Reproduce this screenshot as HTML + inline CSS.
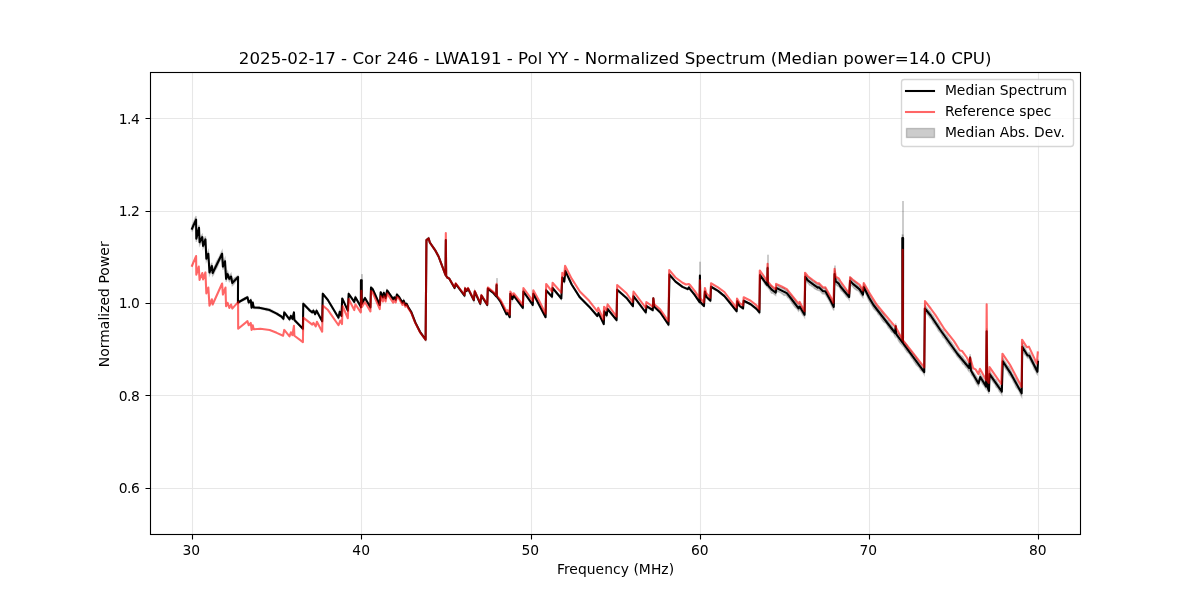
<!DOCTYPE html>
<html lang="en"><head><meta charset="utf-8"><title>Normalized Spectrum</title>
<style>html,body{margin:0;padding:0;background:#fff}body{width:1200px;height:600px;overflow:hidden}</style></head>
<body>
<svg width="1200" height="600" viewBox="0 0 1200 600" style="display:block">
<rect width="1200" height="600" fill="#fff"/>
<defs><clipPath id="ax"><rect x="150" y="72" width="930" height="462"/></clipPath></defs>
<path d="M192.5 72V534 M361.5 72V534 M531.5 72V534 M700.5 72V534 M869.5 72V534 M1038.5 72V534 M150 488.5H1080 M150 395.5H1080 M150 303.5H1080 M150 211.5H1080 M150 118.5H1080" stroke="#b0b0b0" stroke-opacity="0.3" stroke-width="1.11" fill="none"/>
<g clip-path="url(#ax)">
<polygon points="192.00,225.81 192.82,223.99 193.63,221.85 194.45,220.08 195.27,217.77 196.08,216.12 196.32,235.80 197.21,232.52 198.11,229.04 199.00,224.96 199.58,239.17 200.48,237.15 201.37,235.67 202.27,234.58 203.08,243.41 204.25,239.45 205.42,236.31 206.35,255.97 207.34,252.86 208.33,250.79 209.50,269.75 210.67,265.71 211.83,262.84 212.65,270.20 213.51,267.84 214.37,266.46 215.23,265.06 216.09,262.75 216.95,260.87 217.80,259.38 218.66,258.04 219.52,256.27 220.38,254.37 221.24,252.64 222.10,250.89 222.92,263.40 223.97,260.41 225.02,258.26 226.07,275.94 227.58,271.30 228.46,273.74 229.33,276.01 230.21,274.66 231.08,273.48 232.25,280.10 233.08,279.11 233.92,278.51 234.75,277.78 235.58,277.29 236.42,276.81 237.25,276.03 238.08,275.57 237.93,300.97 238.80,300.54 239.67,300.37 240.54,300.20 241.41,299.86 242.28,299.18 243.15,298.57 244.02,298.10 244.89,297.50 245.76,297.03 246.63,296.82 247.50,296.45 248.67,301.55 249.72,300.40 250.77,299.13 251.58,306.51 252.75,301.30 253.68,306.34 254.60,306.40 255.51,306.56 256.43,306.77 257.34,306.74 258.25,306.67 259.17,306.73 259.97,307.08 260.78,307.30 261.59,307.43 262.40,307.62 263.21,307.85 264.01,308.00 264.82,308.10 265.63,308.18 266.44,308.26 267.24,308.51 268.05,308.79 268.86,308.90 269.67,308.96 270.54,309.43 271.42,309.89 272.29,310.26 273.17,310.91 274.04,311.37 274.92,311.74 275.79,312.29 276.67,312.59 277.60,313.11 278.53,313.87 279.47,314.47 280.40,315.08 281.33,315.75 282.38,316.71 283.43,317.86 284.25,311.51 285.12,312.59 286.00,313.70 286.88,314.86 287.75,316.25 288.62,317.51 289.50,318.56 290.90,315.16 292.42,318.06 293.93,311.50 294.40,319.01 295.25,319.79 296.10,320.86 296.95,321.92 297.81,322.66 298.66,323.56 299.51,324.55 300.36,325.31 301.21,326.20 302.06,327.02 302.92,327.72 303.27,302.83 304.13,303.84 305.00,304.56 305.87,305.36 306.73,306.42 307.60,307.54 308.47,308.31 309.33,309.04 310.31,309.99 311.28,310.89 312.25,311.54 313.42,309.69 314.29,311.58 315.17,313.37 316.57,309.72 317.37,311.25 318.17,312.91 318.97,314.54 319.77,316.01 320.57,317.32 321.37,318.88 322.17,320.58 322.75,293.09 323.62,294.14 324.50,295.27 325.38,296.35 326.25,297.33 327.12,298.24 328.00,299.33 328.81,300.81 329.62,302.19 330.42,303.42 331.23,304.62 332.04,305.87 332.85,307.39 333.65,308.97 334.46,310.17 335.27,311.30 336.08,312.74 336.88,314.12 337.69,315.37 338.50,316.75 339.67,310.92 340.54,313.10 341.42,315.29 342.23,297.72 343.03,299.51 343.83,301.11 344.63,302.88 345.43,304.69 346.23,306.43 347.03,308.25 347.83,309.92 348.65,293.05 349.45,294.19 350.25,295.27 351.05,296.49 351.85,297.60 352.65,298.81 353.45,300.11 354.25,301.23 355.42,296.51 356.29,298.11 357.17,299.53 358.04,300.94 358.92,302.69 359.79,304.35 360.67,305.88 360.85,306.61 360.92,279.65 361.72,279.64 361.78,302.93 362.83,301.02 363.88,299.14 364.93,297.14 365.85,298.67 366.76,300.36 367.68,301.91 368.59,303.26 369.50,304.85 370.42,306.56 371.00,286.71 371.88,287.48 372.75,288.36 373.62,290.47 374.50,292.36 375.38,294.13 376.25,296.23 377.12,298.29 378.00,300.35 378.88,302.22 379.75,304.01 380.68,291.26 381.79,293.90 382.90,296.63 383.83,292.07 384.71,294.68 385.58,297.24 387.10,289.69 387.97,290.87 388.83,292.03 389.70,293.39 390.57,294.72 391.43,295.92 392.30,297.00 393.17,298.26 394.33,296.65 395.73,298.94 396.90,293.72 397.95,294.87 399.00,295.94 399.88,297.52 400.75,299.00 401.62,300.37 402.50,301.89 403.67,299.74 404.54,301.92 405.42,304.12 406.58,302.86 407.46,304.80 408.33,306.59 409.31,308.10 410.28,309.63 411.25,311.13 412.07,313.30 412.88,315.32 413.70,317.51 414.52,319.69 415.33,321.73 416.27,323.72 417.20,325.48 418.13,327.22 419.07,329.06 420.00,330.92 420.80,332.17 421.60,333.19 422.40,334.36 423.20,335.70 424.00,336.67 424.80,337.71 425.60,338.91 426.45,239.31 427.56,238.44 428.67,237.56 429.83,241.57 430.71,242.97 431.58,244.37 432.46,245.66 433.33,246.70 434.21,247.93 435.08,249.39 435.96,251.02 436.83,252.44 437.71,254.08 438.58,255.71 439.44,258.03 440.30,260.29 441.16,262.49 442.02,265.02 442.89,267.23 443.75,269.46 444.61,271.81 445.47,274.07 445.82,239.34 446.17,275.38 447.23,276.88 448.28,277.45 449.33,278.06 450.21,279.64 451.08,280.98 451.96,282.52 452.83,284.18 453.71,285.73 454.58,287.36 455.75,283.12 456.62,284.12 457.50,285.35 458.38,286.74 459.25,287.78 460.12,288.94 461.00,290.25 461.88,291.30 462.75,292.35 463.62,293.45 464.50,294.68 465.08,287.78 466.60,290.06 468.00,287.61 468.83,289.27 469.67,290.98 470.50,292.83 471.33,294.59 472.17,296.17 473.00,297.79 473.83,299.37 474.77,290.68 475.68,292.77 476.59,294.77 477.51,296.79 478.42,298.87 479.34,300.99 480.25,303.05 481.42,294.95 482.25,296.08 483.08,297.39 483.92,298.73 484.75,300.02 485.58,301.55 486.42,302.82 487.25,304.15 487.83,287.81 488.67,288.49 489.50,289.19 490.33,289.82 491.17,290.57 492.00,291.05 492.83,291.68 493.67,292.42 494.52,293.40 495.38,294.59 496.23,295.61 496.58,283.99 496.93,295.93 497.87,297.33 498.80,298.62 499.73,299.88 500.67,301.26 501.50,303.06 502.33,304.63 503.17,306.32 504.00,308.24 504.83,309.96 505.67,311.68 506.50,313.44 507.67,312.21 508.72,314.41 509.77,316.39 510.35,292.90 511.34,295.54 512.33,298.12 513.73,294.73 514.56,296.02 515.39,297.16 516.22,298.20 517.04,299.25 517.87,300.41 518.70,301.51 519.52,302.64 520.35,303.87 521.18,304.93 522.01,305.98 522.83,307.10 523.42,290.61 524.27,291.89 525.11,293.18 525.96,294.29 526.81,295.60 527.66,296.86 528.51,297.91 529.36,299.16 530.20,300.44 531.05,301.54 531.90,302.85 532.75,304.03 533.33,292.89 534.17,294.59 535.00,296.15 535.83,297.75 536.67,299.33 537.50,300.95 538.33,302.48 539.17,304.00 539.97,305.70 540.77,307.26 541.57,308.63 542.38,310.07 543.18,311.70 543.98,313.34 544.78,314.90 545.58,316.28 546.17,289.51 547.00,290.45 547.83,291.19 548.67,292.26 549.50,293.30 550.33,294.14 551.17,294.94 552.00,295.77 552.58,286.97 553.46,288.18 554.33,289.43 555.21,290.43 556.08,291.39 556.96,292.40 557.83,293.56 558.71,294.61 559.58,295.46 560.46,296.45 561.33,297.49 562.27,276.49 563.26,278.53 564.25,280.78 565.42,270.29 566.31,272.16 567.20,274.21 568.10,276.09 568.99,277.85 569.88,279.73 570.77,281.79 571.67,283.77 572.48,284.92 573.30,286.09 574.12,287.56 574.93,288.98 575.75,290.21 576.57,291.50 577.38,292.74 578.20,294.02 579.02,295.30 579.83,296.41 580.68,297.19 581.53,298.24 582.38,299.25 583.23,300.02 584.08,300.76 584.92,301.62 585.77,302.56 586.62,303.42 587.47,304.28 588.32,305.00 589.17,305.73 589.98,306.77 590.80,307.71 591.62,308.61 592.43,309.59 593.25,310.56 594.07,311.50 594.88,312.29 595.70,313.15 596.52,314.12 597.33,315.21 598.50,312.37 599.38,314.16 600.25,316.11 601.12,317.95 602.00,319.80 602.88,321.69 603.75,323.36 604.33,310.42 605.50,312.48 606.67,314.67 607.60,308.38 608.42,309.40 609.23,310.43 610.05,311.42 610.87,312.22 611.68,313.03 612.50,314.22 613.32,315.38 614.13,316.21 614.95,317.14 615.77,318.29 616.58,319.32 617.17,289.01 618.02,289.73 618.86,290.36 619.71,291.12 620.56,291.84 621.41,292.68 622.26,293.47 623.11,294.00 623.95,294.86 624.80,295.72 625.65,296.34 626.50,297.12 627.30,298.06 628.10,299.05 628.91,300.19 629.71,301.11 630.51,302.24 631.31,303.27 632.11,304.26 632.92,305.40 633.50,295.40 634.32,296.46 635.13,297.66 635.95,298.79 636.77,299.80 637.58,300.74 638.40,301.69 639.22,302.87 640.03,303.95 640.85,304.98 641.67,306.20 642.48,307.47 643.30,308.50 644.12,309.54 644.93,310.77 645.75,311.70 646.57,305.06 647.45,305.75 648.33,306.41 649.22,306.96 650.10,307.47 650.98,308.11 651.87,308.77 652.75,309.41 653.33,297.59 654.27,305.92 655.13,306.76 656.00,307.71 656.87,308.51 657.73,309.17 658.60,310.03 659.47,310.83 660.33,311.56 661.15,312.84 661.97,314.02 662.78,315.38 663.60,316.78 664.42,317.80 665.23,318.85 666.05,320.28 666.87,321.54 667.68,322.78 668.50,324.15 669.43,273.96 670.30,274.93 671.17,275.86 672.03,276.71 672.90,277.70 673.77,278.89 674.63,279.93 675.50,280.96 676.38,281.67 677.25,282.23 678.12,282.77 679.00,283.47 679.88,284.15 680.75,284.84 681.62,285.43 682.50,286.02 683.38,286.53 684.25,286.89 685.12,287.27 686.00,287.71 686.88,288.12 687.75,288.39 688.92,286.60 690.00,288.23 690.93,289.36 691.87,290.72 692.80,291.82 693.73,292.84 694.67,293.97 695.48,295.32 696.30,296.55 697.12,297.58 697.93,298.90 698.75,300.20 699.57,301.33 699.92,274.78 700.27,301.21 701.20,302.09 702.13,303.08 703.07,304.13 704.00,305.21 704.93,290.69 706.33,295.98 707.15,296.67 707.97,297.33 708.78,298.29 709.60,299.32 710.42,300.16 711.00,286.07 711.88,286.41 712.75,286.97 713.62,287.55 714.50,287.99 715.38,288.42 716.25,289.01 717.12,289.72 718.00,290.15 718.80,290.72 719.60,291.43 720.41,291.99 721.21,292.55 722.01,293.37 722.81,294.06 723.61,294.54 724.42,295.11 725.29,296.37 726.17,297.47 727.04,298.53 727.92,299.63 728.79,300.56 729.67,301.57 730.54,302.65 731.42,303.96 732.29,305.04 733.17,306.09 734.04,307.15 734.92,308.30 735.79,309.51 736.67,310.45 737.25,300.57 738.42,302.91 739.58,305.12 740.46,305.68 741.33,306.22 742.21,306.88 743.08,307.64 743.67,300.09 744.54,300.47 745.42,300.96 746.29,301.32 747.17,301.75 748.04,302.35 748.92,302.58 749.79,302.84 750.67,303.44 751.50,304.21 752.33,304.74 753.17,305.34 754.00,306.14 754.83,306.85 755.67,307.32 756.50,308.01 757.47,308.97 758.44,309.82 759.42,311.15 760.00,273.59 760.83,274.73 761.67,275.96 762.50,276.75 763.33,277.90 764.17,278.74 765.00,279.50 765.83,281.03 767.23,283.02 767.58,265.96 767.93,282.85 768.87,283.78 769.80,284.78 770.73,285.25 771.67,286.04 772.48,287.25 773.30,288.33 774.12,288.64 774.93,289.18 775.75,289.76 776.33,285.02 777.17,285.13 778.00,285.69 778.83,286.48 779.67,286.82 780.50,287.41 781.33,287.61 782.17,287.80 783.10,288.00 784.03,288.09 784.97,289.18 785.90,290.17 786.83,290.13 787.77,291.01 788.70,292.88 789.63,293.98 790.57,294.80 791.50,295.82 792.38,296.67 793.25,297.71 794.12,298.92 795.00,300.09 795.88,301.64 796.75,303.32 797.62,304.69 798.50,305.38 799.67,303.54 800.48,305.19 801.30,306.23 802.12,307.35 802.93,308.82 803.75,310.79 804.57,312.16 805.27,274.32 806.12,275.56 806.98,276.20 807.83,277.59 808.77,277.96 809.70,278.23 810.63,279.55 811.57,279.98 812.50,280.83 813.38,281.93 814.25,281.85 815.12,282.56 816.00,283.39 816.88,284.18 817.75,285.00 818.92,284.12 819.73,285.19 820.55,286.26 821.37,286.72 822.18,287.25 823.00,288.38 824.17,288.54 825.33,287.77 826.19,289.40 827.06,291.15 827.92,292.81 828.78,294.66 829.64,295.92 830.50,297.35 831.32,298.77 832.13,300.19 832.95,301.81 833.77,303.41 834.58,270.45 835.75,278.01 836.72,278.84 837.69,279.44 838.67,280.73 839.54,282.51 840.42,283.51 841.29,284.13 842.17,285.81 843.04,286.91 843.92,287.98 844.79,289.21 845.67,289.78 846.54,290.59 847.42,292.02 848.29,293.62 849.17,294.29 850.10,277.25 850.96,278.01 851.81,279.41 852.67,280.58 853.54,280.98 854.42,281.44 855.29,282.37 856.17,283.10 857.04,283.99 857.92,285.32 858.79,286.07 859.67,286.33 860.48,287.10 861.30,288.65 862.12,290.13 862.93,291.75 863.75,284.34 864.62,285.82 865.50,287.64 866.38,289.61 867.25,291.19 868.12,292.49 869.00,294.23 869.90,295.64 870.80,297.29 871.70,298.67 872.60,300.05 873.50,301.51 874.33,302.73 875.16,303.97 875.99,305.25 876.82,306.89 877.65,307.29 878.48,308.10 879.31,310.00 880.14,310.84 880.97,311.10 881.80,312.04 882.63,313.06 883.46,313.99 884.29,315.55 885.12,317.28 885.95,318.72 886.78,319.76 887.61,320.31 888.44,320.79 889.27,322.45 890.10,323.62 890.93,323.99 891.76,325.18 892.59,326.85 893.42,328.51 894.25,329.03 895.08,329.56 895.67,323.25 896.25,331.34 897.13,332.81 898.01,333.37 898.88,333.78 899.76,334.96 900.64,336.13 901.52,337.77 902.40,338.91 902.30,234.86 903.10,235.02 903.00,340.02 903.82,341.40 904.64,341.92 905.46,343.01 906.27,344.11 907.09,345.06 907.91,346.73 908.72,348.17 909.54,349.55 910.36,350.38 911.18,350.72 911.99,352.16 912.81,353.61 913.63,354.02 914.44,355.22 915.26,356.38 916.08,357.09 916.90,358.62 917.71,359.91 918.53,361.43 919.35,362.66 920.16,363.13 920.98,364.51 921.80,366.29 922.62,367.59 923.43,368.61 924.25,369.53 924.83,305.35 925.67,306.14 926.50,307.39 927.33,308.53 928.17,309.75 929.00,310.52 929.83,311.10 930.67,312.45 931.52,314.01 932.36,314.85 933.21,315.63 934.06,317.25 934.91,319.06 935.76,320.05 936.61,321.56 937.45,322.79 938.30,323.28 939.15,324.87 940.00,326.61 940.83,327.92 941.67,329.05 942.50,329.41 943.33,330.56 944.17,332.43 945.00,333.82 945.83,334.60 946.67,335.25 947.50,336.58 948.33,338.09 949.17,338.92 950.00,340.45 950.83,341.48 951.67,342.31 952.50,344.06 953.33,344.93 954.17,346.16 955.00,347.93 955.83,349.09 956.67,349.76 957.50,351.08 958.33,352.28 959.17,353.16 960.00,354.07 960.83,355.16 961.67,355.94 962.50,356.20 963.33,357.63 964.17,359.16 965.00,359.90 965.83,360.54 966.67,362.05 967.50,363.11 968.33,363.39 969.17,364.28 970.10,354.15 970.92,367.19 971.76,368.51 972.60,370.54 973.44,372.21 974.29,373.25 975.13,374.42 975.97,375.65 976.81,376.92 977.66,378.91 978.50,380.63 979.38,376.89 980.25,373.62 981.08,375.48 981.92,376.36 982.75,377.48 983.58,379.40 984.42,380.68 985.25,382.02 986.08,383.58 986.67,328.29 987.25,382.74 988.12,385.31 989.00,388.25 989.58,371.27 990.40,372.20 991.22,373.41 992.03,374.73 992.85,375.58 993.67,376.78 994.48,378.64 995.30,379.33 996.12,379.83 996.93,381.43 997.75,383.14 998.57,383.98 999.38,384.44 1000.20,385.91 1001.02,387.44 1001.83,388.60 1002.77,358.07 1003.57,359.11 1004.37,360.69 1005.18,361.74 1005.98,362.82 1006.79,364.49 1007.59,365.83 1008.39,366.34 1009.20,367.20 1010.00,368.86 1010.83,370.49 1011.67,372.34 1012.50,374.08 1013.33,374.86 1014.17,376.57 1015.00,377.99 1015.83,378.86 1016.67,380.64 1017.50,382.59 1018.33,384.66 1019.17,386.23 1020.00,387.11 1020.83,388.49 1021.67,389.93 1022.25,343.46 1023.12,344.90 1024.00,345.74 1024.88,347.30 1025.75,349.38 1026.62,351.32 1027.50,352.91 1028.38,353.07 1029.25,352.43 1030.07,353.64 1030.88,355.25 1031.70,357.08 1032.52,359.11 1033.33,360.16 1034.15,361.17 1034.97,363.56 1035.78,365.40 1036.60,366.60 1037.42,368.97 1038.00,359.06 1038.00,364.61 1037.42,374.53 1036.60,373.64 1035.78,371.57 1034.97,370.14 1034.15,369.27 1033.33,367.01 1032.52,364.79 1031.70,363.55 1030.88,362.12 1030.07,360.46 1029.25,358.41 1028.38,357.76 1027.50,357.92 1026.62,356.60 1025.75,355.62 1024.88,354.79 1024.00,353.43 1023.12,351.35 1022.25,349.87 1021.67,396.73 1020.83,395.17 1020.00,393.55 1019.17,391.43 1018.33,390.01 1017.50,389.07 1016.67,388.03 1015.83,386.81 1015.00,384.68 1014.17,383.09 1013.33,381.81 1012.50,379.59 1011.67,378.32 1010.83,377.18 1010.00,375.81 1009.20,375.00 1008.39,373.40 1007.59,371.45 1006.79,370.33 1005.98,369.53 1005.18,368.15 1004.37,366.74 1003.57,365.85 1002.77,364.43 1001.83,394.57 1001.02,393.39 1000.20,392.59 999.38,391.73 998.57,389.85 997.75,388.36 996.93,387.73 996.12,387.00 995.30,385.17 994.48,383.53 993.67,383.06 992.85,381.92 992.03,380.44 991.22,379.43 990.40,378.30 989.58,376.90 989.00,393.75 988.12,392.02 987.25,389.93 986.67,334.48 986.08,389.09 985.25,387.98 984.42,386.65 983.58,385.26 982.75,384.52 981.92,382.98 981.08,381.19 980.25,380.38 979.38,383.53 978.50,386.20 977.66,385.08 976.81,384.21 975.97,382.63 975.13,381.00 974.29,379.32 973.44,377.51 972.60,376.33 971.76,375.51 970.92,373.98 970.10,360.88 969.17,371.72 968.33,370.61 967.50,368.89 966.67,367.95 965.83,367.46 965.00,366.10 964.17,364.84 963.33,364.37 962.50,363.80 961.67,362.06 960.83,360.84 960.00,359.93 959.17,358.84 958.33,357.72 957.50,356.92 956.67,355.91 955.83,354.24 955.00,353.07 954.17,352.50 953.33,351.41 952.50,349.94 951.67,349.36 950.83,347.85 950.00,346.55 949.17,345.75 948.33,344.25 947.50,343.42 946.67,342.42 945.83,340.74 945.00,339.18 944.17,338.23 943.33,337.78 942.50,336.59 941.67,334.62 940.83,333.42 940.00,332.39 939.15,331.58 938.30,330.63 937.45,328.57 936.61,327.26 935.76,326.22 934.91,324.67 934.06,323.93 933.21,323.00 932.36,321.24 931.52,319.53 930.67,318.55 929.83,317.90 929.00,316.48 928.17,315.25 927.33,314.47 926.50,313.61 925.67,312.86 924.83,311.65 924.25,374.63 923.43,373.32 922.62,372.10 921.80,371.17 920.98,370.72 920.16,369.87 919.35,368.10 918.53,367.09 917.71,366.38 916.90,365.44 916.08,364.73 915.26,363.21 914.44,362.13 913.63,361.10 912.81,359.27 911.99,358.49 911.18,357.69 910.36,355.80 909.54,354.39 908.72,353.54 907.91,352.74 907.09,352.18 906.27,350.90 905.46,349.76 904.64,348.61 903.82,346.91 903.00,346.05 903.10,240.98 902.30,241.14 902.40,345.67 901.52,344.48 900.64,343.80 899.76,342.66 898.88,341.51 898.01,339.61 897.13,337.84 896.25,337.00 895.67,329.45 895.08,336.44 894.25,334.82 893.42,333.18 892.59,332.69 891.76,332.20 890.93,331.24 890.10,329.46 889.27,328.47 888.44,327.98 887.61,326.31 886.78,324.70 885.95,323.59 885.12,322.87 884.29,322.45 883.46,321.86 882.63,320.63 881.80,319.50 880.97,318.28 880.14,316.39 879.31,315.08 878.48,314.82 877.65,313.48 876.82,311.72 875.99,311.21 875.16,310.33 874.33,309.42 873.50,308.49 872.60,306.98 871.70,305.40 870.80,303.81 869.90,302.49 869.00,300.94 868.12,299.18 867.25,296.98 866.38,295.05 865.50,293.53 864.62,291.85 863.75,289.83 862.93,297.58 862.12,296.58 861.30,295.44 860.48,294.36 859.67,292.50 858.79,291.31 857.92,290.60 857.04,290.47 856.17,289.90 855.29,289.17 854.42,288.65 853.54,287.65 852.67,286.59 851.81,285.81 850.96,285.26 850.10,284.09 849.17,299.71 848.29,298.28 847.42,297.78 846.54,297.11 845.67,295.82 844.79,294.29 843.92,293.42 843.04,292.39 842.17,291.39 841.29,290.97 840.42,289.49 839.54,287.57 838.67,286.43 837.69,286.17 836.72,285.22 835.75,284.49 834.58,277.81 833.77,310.43 832.95,308.81 832.13,307.22 831.32,305.44 830.50,303.65 829.64,301.97 828.78,300.13 827.92,298.87 827.06,297.43 826.19,296.07 825.33,294.60 824.17,293.83 823.00,293.99 822.18,293.58 821.37,292.57 820.55,291.49 819.73,291.02 818.92,290.54 817.75,290.37 816.88,289.91 816.00,289.41 815.12,288.95 814.25,288.38 813.38,287.02 812.50,286.84 811.57,286.29 810.63,285.31 809.70,285.24 808.77,284.10 807.83,283.08 806.98,282.13 806.12,280.44 805.27,279.34 804.57,317.34 803.75,315.99 802.93,315.24 802.12,313.98 801.30,312.38 800.48,310.70 799.67,309.62 798.50,311.29 797.62,309.64 796.75,308.68 795.88,308.03 795.00,307.24 794.12,306.08 793.25,304.96 792.38,303.66 791.50,302.18 790.57,300.87 789.63,299.36 788.70,298.12 787.77,297.66 786.83,296.20 785.90,295.23 784.97,295.29 784.03,295.44 783.10,294.60 782.17,293.87 781.33,293.23 780.50,292.59 779.67,292.35 778.83,291.86 778.00,291.81 777.17,291.53 776.33,290.81 775.75,295.41 774.93,294.82 774.12,294.19 773.30,293.34 772.48,293.25 771.67,293.30 770.73,291.87 769.80,290.12 768.87,288.90 767.93,287.61 767.58,269.97 767.23,286.98 765.83,285.47 765.00,284.67 764.17,283.09 763.33,281.60 762.50,280.42 761.67,278.87 760.83,277.77 760.00,276.57 759.42,313.68 758.44,312.68 757.47,311.19 756.50,309.82 755.67,309.18 754.83,308.31 754.00,307.69 753.17,307.16 752.33,306.42 751.50,305.62 750.67,305.06 749.79,304.79 748.92,304.17 748.04,303.53 747.17,303.25 746.29,302.81 745.42,302.29 744.54,301.90 743.67,301.41 743.08,309.03 742.21,308.62 741.33,308.11 740.46,307.49 739.58,306.88 738.42,304.42 737.25,302.09 736.67,312.05 735.79,310.80 734.92,309.83 734.04,308.79 733.17,307.66 732.29,306.52 731.42,305.42 730.54,304.53 729.67,303.43 728.79,302.30 727.92,301.10 727.04,300.06 726.17,298.98 725.29,297.93 724.42,297.05 723.61,296.31 722.81,295.48 722.01,294.86 721.21,294.37 720.41,293.62 719.60,292.86 718.80,292.26 718.00,291.52 717.12,290.93 716.25,290.61 715.38,290.19 714.50,289.59 713.62,289.01 712.75,288.58 711.88,288.12 711.00,287.43 710.42,301.34 709.60,300.54 708.78,299.94 707.97,299.27 707.15,298.29 706.33,297.35 704.93,292.15 704.00,306.79 703.07,305.88 702.13,304.95 701.20,303.96 700.27,302.86 699.92,276.32 699.57,302.97 698.75,301.69 697.93,300.58 697.12,299.49 696.30,298.11 695.48,296.93 694.67,295.86 693.73,294.66 692.80,293.35 691.87,292.11 690.93,291.14 690.00,289.94 688.92,288.23 687.75,289.94 686.88,289.44 686.00,289.07 685.12,288.73 684.25,288.33 683.38,287.92 682.50,287.65 681.62,286.92 680.75,286.20 679.88,285.58 679.00,284.95 678.12,284.34 677.25,283.57 676.38,282.81 675.50,282.21 674.63,281.24 673.77,280.28 672.90,279.47 672.03,278.46 671.17,277.31 670.30,276.24 669.43,275.20 668.50,325.35 667.68,324.27 666.87,323.06 666.05,321.87 665.23,320.85 664.42,319.45 663.60,318.02 662.78,316.97 661.97,315.88 661.15,314.61 660.33,313.44 659.47,312.50 658.60,311.64 657.73,310.83 656.87,309.82 656.00,308.96 655.13,308.24 654.27,307.41 653.33,298.94 652.75,310.92 651.87,310.40 650.98,309.89 650.10,309.36 649.22,308.70 648.33,308.09 647.45,307.59 646.57,307.11 645.75,313.30 644.93,312.05 644.12,311.11 643.30,309.97 642.48,308.82 641.67,307.91 640.85,306.96 640.03,305.80 639.22,304.71 638.40,303.71 637.58,302.49 636.77,301.24 635.95,300.08 635.13,299.03 634.32,298.05 633.50,296.93 632.92,306.77 632.11,305.86 631.31,304.81 630.51,303.80 629.71,302.89 628.91,301.77 628.10,300.87 627.30,299.81 626.50,298.71 625.65,298.00 624.80,297.15 623.95,296.52 623.11,295.89 622.26,294.94 621.41,294.25 620.56,293.60 619.71,292.84 618.86,292.11 618.02,291.26 617.17,290.49 616.58,320.84 615.77,319.86 614.95,319.00 614.13,317.91 613.32,316.72 612.50,315.87 611.68,315.04 610.87,313.85 610.05,312.63 609.23,311.60 608.42,310.61 607.60,309.62 606.67,316.16 605.50,314.27 604.33,312.25 603.75,324.97 602.88,322.95 602.00,321.14 601.12,319.30 600.25,317.45 599.38,315.70 598.50,313.79 597.33,316.79 596.52,316.01 595.70,315.12 594.88,314.11 594.07,313.03 593.25,312.11 592.43,311.21 591.62,310.32 590.80,309.36 589.98,308.43 589.17,307.60 588.32,306.63 587.47,305.66 586.62,304.82 585.77,303.99 584.92,303.23 584.08,302.39 583.23,301.44 582.38,300.51 581.53,299.82 580.68,299.17 579.83,298.26 579.02,296.80 578.20,295.52 577.38,294.23 576.57,292.90 575.75,291.63 574.93,290.29 574.12,289.14 573.30,288.04 572.48,286.65 571.67,285.23 570.77,283.37 569.88,281.60 568.99,279.65 568.10,277.58 567.20,275.62 566.31,273.84 565.42,271.87 564.25,282.39 563.26,280.55 562.27,278.51 561.33,299.51 560.46,298.45 559.58,297.34 558.71,296.09 557.83,295.04 556.96,294.10 556.08,293.01 555.21,291.87 554.33,290.77 553.46,289.92 552.58,289.03 552.00,297.73 551.17,296.72 550.33,295.70 549.50,294.70 548.67,293.90 547.83,293.15 547.00,292.05 546.17,291.16 545.58,318.05 544.78,316.37 543.98,314.86 543.18,313.44 542.38,312.01 541.57,310.39 540.77,308.70 539.97,307.20 539.17,305.83 538.33,304.18 537.50,302.55 536.67,301.00 535.83,299.42 535.00,297.85 534.17,296.25 533.33,294.78 532.75,305.80 531.90,304.55 531.05,303.41 530.20,302.07 529.36,300.91 528.51,299.72 527.66,298.34 526.81,297.16 525.96,296.03 525.11,294.70 524.27,293.55 523.42,292.39 522.83,308.57 522.01,307.46 521.18,306.28 520.35,305.12 519.52,304.12 518.70,303.02 517.87,301.89 517.04,300.82 516.22,299.65 515.39,298.46 514.56,297.38 513.73,296.44 512.33,300.04 511.34,297.38 510.35,294.76 509.77,317.94 508.72,315.84 507.67,313.96 506.50,315.06 505.67,313.32 504.83,311.54 504.00,309.76 503.17,308.18 502.33,306.37 501.50,304.44 500.67,302.74 499.73,301.49 498.80,300.13 497.87,298.79 496.93,297.57 496.58,285.95 496.23,297.19 495.38,296.11 494.52,295.20 493.67,294.08 492.83,293.49 492.00,292.79 491.17,291.93 490.33,291.34 489.50,290.64 488.67,290.01 487.83,289.35 487.25,305.68 486.42,304.34 485.58,302.95 484.75,301.82 483.92,300.43 483.08,299.11 482.25,297.75 481.42,296.22 480.25,304.45 479.34,302.43 478.42,300.46 477.51,298.46 476.59,296.39 475.68,294.32 474.77,292.32 473.83,301.13 473.00,299.38 472.17,297.66 471.33,295.91 470.50,294.34 469.67,292.86 468.83,291.23 468.00,289.55 466.60,291.77 465.08,289.39 464.50,296.49 463.62,295.39 462.75,294.15 461.88,292.87 461.00,291.58 460.12,290.56 459.25,289.38 458.38,288.09 457.50,287.15 456.62,286.05 455.75,284.71 454.58,288.64 453.71,287.15 452.83,285.59 451.96,284.14 451.08,282.58 450.21,280.81 449.33,279.28 448.28,278.72 447.23,278.12 446.17,276.59 445.82,240.76 445.47,275.79 444.61,273.45 443.75,271.19 442.89,268.81 442.02,266.41 441.16,264.33 440.30,261.93 439.44,259.58 438.58,257.29 437.71,255.71 436.83,254.14 435.96,252.36 435.08,250.78 434.21,249.71 433.33,248.41 432.46,246.92 431.58,245.68 430.71,244.56 429.83,243.43 428.67,239.27 427.56,240.14 426.45,241.02 425.60,340.39 424.80,339.36 424.00,338.17 423.20,336.90 422.40,336.01 421.60,334.94 420.80,333.73 420.00,332.75 419.07,330.88 418.13,328.98 417.20,326.98 416.27,325.01 415.33,323.27 414.52,321.11 413.70,319.09 412.88,317.08 412.07,314.90 411.25,312.87 410.28,311.26 409.31,309.68 408.33,308.07 407.46,306.37 406.58,304.81 405.42,305.88 404.54,303.65 403.67,301.39 402.50,303.44 401.62,302.04 400.75,300.50 399.88,299.06 399.00,297.73 397.95,296.46 396.90,295.28 395.73,300.56 394.33,298.19 393.17,300.07 392.30,298.84 391.43,297.42 390.57,296.11 389.70,294.94 388.83,293.80 387.97,292.46 387.10,291.14 385.58,298.76 384.71,296.07 383.83,293.43 382.90,298.20 381.79,295.69 380.68,293.08 379.75,305.99 378.88,303.84 378.00,301.77 377.12,299.90 376.25,298.02 375.38,296.18 374.50,294.02 373.62,291.97 372.75,290.14 371.88,289.27 371.00,288.29 370.42,308.11 369.50,306.71 368.59,305.19 367.68,303.42 366.76,301.87 365.85,300.44 364.93,298.86 363.88,300.75 362.83,302.76 361.78,304.74 361.72,281.13 360.92,281.12 360.85,308.06 360.67,307.29 359.79,305.70 358.92,304.26 358.04,302.90 357.17,301.19 356.29,299.51 355.42,297.99 354.25,302.61 353.45,301.39 352.65,300.36 351.85,299.23 351.05,298.01 350.25,296.90 349.45,295.65 348.65,294.45 347.83,311.41 347.03,309.58 346.23,307.91 345.43,306.15 344.63,304.45 343.83,302.72 343.03,300.82 342.23,299.11 341.42,316.55 340.54,314.65 339.67,312.75 338.50,318.58 337.69,317.27 336.88,315.83 336.08,314.52 335.27,313.26 334.46,311.70 333.65,310.21 332.85,309.10 332.04,307.92 331.23,306.48 330.42,304.99 329.62,303.53 328.81,302.21 328.00,301.00 327.12,299.96 326.25,298.73 325.38,297.57 324.50,296.51 323.62,295.49 322.75,294.41 322.17,321.75 321.37,320.45 320.57,319.01 319.77,317.32 318.97,315.79 318.17,314.42 317.37,313.08 316.57,311.62 315.17,314.96 314.29,313.26 313.42,311.65 312.25,313.30 311.28,312.39 310.31,311.73 309.33,311.13 308.47,310.03 307.60,308.96 306.73,308.25 305.87,307.47 305.00,306.44 304.13,305.33 303.27,304.50 302.92,329.78 302.06,328.73 301.21,327.80 300.36,326.94 299.51,325.95 298.66,325.19 297.81,324.34 296.95,323.33 296.10,322.64 295.25,321.96 294.40,320.99 293.93,313.34 292.42,319.61 290.90,316.68 289.50,320.28 288.62,318.99 287.75,317.92 286.88,316.97 286.00,315.80 285.12,314.57 284.25,313.33 283.43,319.80 282.38,318.62 281.33,317.25 280.40,316.75 279.47,316.19 278.53,315.63 277.60,315.23 276.67,314.58 275.79,314.00 274.92,313.67 274.04,313.17 273.17,312.76 272.29,312.53 271.42,312.02 270.54,311.61 269.67,311.20 268.86,310.91 268.05,310.66 267.24,310.58 266.44,310.47 265.63,310.19 264.82,309.91 264.01,309.66 263.21,309.44 262.40,309.31 261.59,309.15 260.78,308.91 259.97,308.78 259.17,308.77 258.25,308.71 257.34,308.53 256.43,308.38 255.51,308.48 254.60,308.52 253.68,308.46 252.75,303.70 251.58,308.99 250.77,301.20 249.72,302.26 248.67,303.45 247.50,298.05 246.63,298.64 245.76,299.38 244.89,299.87 244.02,300.22 243.15,300.70 242.28,301.05 241.41,301.32 240.54,301.93 239.67,302.72 238.80,303.50 237.93,304.03 238.08,278.59 237.25,279.81 236.42,280.69 235.58,281.87 234.75,283.05 233.92,283.99 233.08,285.06 232.25,285.73 231.08,279.52 230.21,280.68 229.33,281.66 228.46,279.26 227.58,277.03 226.07,281.73 225.02,264.41 223.97,267.50 222.92,269.77 222.10,256.61 221.24,258.36 220.38,260.13 219.52,261.73 218.66,263.46 217.80,265.62 216.95,267.63 216.09,269.25 215.23,270.44 214.37,272.54 213.51,274.66 212.65,275.80 211.83,269.16 210.67,272.70 209.50,275.08 208.33,256.71 207.34,259.55 206.35,261.37 205.42,242.53 204.25,245.80 203.08,248.25 202.27,239.59 201.37,242.00 200.48,244.02 199.58,245.49 199.00,230.54 198.11,233.85 197.21,237.75 196.32,241.87 196.08,223.05 195.27,225.03 194.45,226.37 193.63,228.24 192.82,229.73 192.00,231.55" fill="#000" fill-opacity="0.2" stroke="#000" stroke-opacity="0.2" stroke-width="1.39" stroke-linejoin="miter"/>
<rect x="361" y="274.10" width="2" height="7.28" fill="#000" fill-opacity="0.2"/>
<rect x="496" y="278.10" width="2" height="7.87" fill="#000" fill-opacity="0.2"/>
<rect x="699" y="261.70" width="2" height="14.85" fill="#000" fill-opacity="0.2"/>
<rect x="767" y="254.70" width="2" height="14.27" fill="#000" fill-opacity="0.2"/>
<rect x="834" y="265.50" width="2" height="9.63" fill="#000" fill-opacity="0.2"/>
<rect x="902" y="201.00" width="2" height="38.00" fill="#000" fill-opacity="0.2"/>
<polyline points="192.00,228.68 196.08,219.58 196.32,238.83 199.00,227.75 199.58,242.33 202.27,237.08 203.08,245.83 205.42,239.42 206.35,258.67 208.33,253.75 209.50,272.42 211.83,266.00 212.65,273.00 222.10,253.75 222.92,266.58 225.02,261.33 226.07,278.83 227.58,274.17 229.33,278.83 231.08,276.50 232.25,282.92 238.08,277.08 237.93,302.50 247.50,297.25 248.67,302.50 250.77,300.17 251.58,307.75 252.75,302.50 253.68,307.40 259.17,307.75 269.67,310.08 276.67,313.58 281.33,316.50 283.43,318.83 284.25,312.42 289.50,319.42 290.90,315.92 292.42,318.83 293.93,312.42 294.40,320.00 302.92,328.75 303.27,303.67 309.33,310.08 312.25,312.42 313.42,310.67 315.17,314.17 316.57,310.67 322.17,321.17 322.75,293.75 328.00,300.17 338.50,317.67 339.67,311.83 341.42,315.92 342.23,298.42 347.83,310.67 348.65,293.75 354.25,301.92 355.42,297.25 360.67,306.58 360.85,307.33 360.92,280.38 361.72,280.38 361.78,303.83 364.93,298.00 370.42,307.33 371.00,287.50 372.75,289.25 379.75,305.00 380.68,292.17 382.90,297.42 383.83,292.75 385.58,298.00 387.10,290.42 393.17,299.17 394.33,297.42 395.73,299.75 396.90,294.50 399.00,296.83 402.50,302.67 403.67,300.57 405.42,305.00 406.58,303.83 408.33,307.33 411.25,312.00 415.33,322.50 420.00,331.83 425.60,339.65 426.45,240.17 428.67,238.42 429.83,242.50 435.08,250.08 438.58,256.50 445.47,274.93 445.82,240.05 446.17,275.98 447.23,277.50 449.33,278.67 454.58,288.00 455.75,283.92 464.50,295.58 465.08,288.58 466.60,290.92 468.00,288.58 473.83,300.25 474.77,291.50 480.25,303.75 481.42,295.58 487.25,304.92 487.83,288.58 493.67,293.25 496.23,296.40 496.58,284.97 496.93,296.75 500.67,302.00 506.50,314.25 507.67,313.08 509.77,317.17 510.35,293.83 512.33,299.08 513.73,295.58 522.83,307.83 523.42,291.50 532.75,304.92 533.33,293.83 539.17,304.92 545.58,317.17 546.17,290.33 552.00,296.75 552.58,288.00 561.33,298.50 562.27,277.50 564.25,281.58 565.42,271.08 571.67,284.50 579.83,297.33 589.17,306.67 597.33,316.00 598.50,313.08 603.75,324.17 604.33,311.33 606.67,315.42 607.60,309.00 616.58,320.08 617.17,289.75 626.50,297.92 632.92,306.08 633.50,296.17 645.75,312.50 646.57,306.08 652.75,310.17 653.33,298.27 654.27,306.67 660.33,312.50 668.50,324.75 669.43,274.58 675.50,281.58 682.50,286.83 687.75,289.17 688.92,287.42 690.00,289.08 694.67,294.92 699.57,302.15 699.92,275.55 700.27,302.03 704.00,306.00 704.93,291.42 706.33,296.67 710.42,300.75 711.00,286.75 718.00,290.83 724.42,296.08 729.67,302.50 736.67,311.25 737.25,301.33 739.58,306.00 743.08,308.33 743.67,300.75 750.67,304.25 756.50,308.92 759.42,312.42 760.00,275.08 765.83,283.25 767.23,285.00 767.58,267.97 767.93,285.23 771.67,289.67 775.75,292.58 776.33,287.92 782.17,290.83 786.83,293.17 791.50,299.00 798.50,308.33 799.67,306.58 804.57,314.75 805.27,276.83 807.83,280.33 812.50,283.83 817.75,287.68 818.92,287.33 823.00,291.18 825.33,291.18 830.50,300.50 833.77,306.92 834.58,274.13 835.75,281.25 838.67,283.58 840.42,286.50 849.17,297.00 850.10,280.67 852.67,283.58 859.67,289.42 862.93,294.67 863.75,287.08 869.00,297.58 873.50,305.00 895.08,333.00 895.67,326.35 896.25,334.17 902.40,342.29 902.30,238.00 903.10,238.00 903.00,343.03 924.25,372.08 924.83,308.50 930.67,315.50 940.00,329.50 957.50,354.00 969.17,368.00 970.10,357.52 970.92,370.58 978.50,383.42 980.25,377.00 986.08,386.33 986.67,331.38 987.25,386.33 989.00,391.00 989.58,374.08 1001.83,391.58 1002.77,361.25 1010.00,372.33 1021.67,393.33 1022.25,346.67 1027.50,355.42 1029.25,355.42 1037.42,371.75 1038.00,361.83" fill="none" stroke="#000" stroke-width="2.083" stroke-linejoin="round" stroke-linecap="square"/>
<polyline points="192.00,265.77 196.08,256.08 196.32,274.75 198.77,266.58 199.58,280.00 202.27,273.00 203.08,279.42 205.42,272.42 206.35,293.42 208.33,287.58 209.50,305.67 211.83,299.25 212.65,304.50 222.10,283.50 222.92,294.58 225.48,287.58 226.07,306.25 227.58,302.75 229.33,308.00 231.08,304.50 232.25,308.58 238.08,302.17 238.17,328.75 247.50,321.17 248.67,325.25 250.77,322.92 251.58,329.92 252.75,325.25 253.68,329.33 260.33,328.75 269.67,329.92 276.67,332.83 283.08,335.75 284.25,329.92 289.50,336.33 290.90,332.25 292.42,335.17 293.93,325.83 294.40,335.75 302.92,342.17 303.27,317.67 309.33,322.33 312.25,324.67 313.42,322.92 315.75,326.42 316.92,321.75 322.17,331.67 322.75,305.42 328.00,310.08 338.50,325.25 340.25,320.58 342.00,324.08 342.58,306.00 347.83,318.25 348.65,299.00 354.25,310.08 355.42,304.25 360.67,312.42 360.85,312.00 361.32,290.88 361.78,307.33 364.93,302.08 370.42,311.42 371.00,291.00 372.75,292.75 379.75,309.08 380.68,296.25 382.90,301.50 383.83,296.25 385.58,301.50 387.10,293.33 393.17,302.67 394.33,300.33 395.73,302.43 396.90,296.83 399.00,298.58 402.50,305.00 403.67,302.67 405.42,306.75 406.58,305.00 408.33,308.50 411.25,312.93 415.33,323.08 420.00,332.18 425.60,339.77 426.45,240.17 428.67,238.42 429.83,242.50 435.08,250.08 438.58,256.50 445.47,274.93 445.82,233.05 446.17,275.75 447.23,277.50 449.33,278.67 454.58,287.42 455.75,283.33 464.50,295.00 465.08,288.00 466.60,290.33 468.00,288.00 473.83,299.67 474.77,290.92 480.25,303.17 481.42,295.00 487.25,304.33 487.83,287.42 493.67,292.08 496.23,295.23 496.58,283.80 496.93,295.58 500.67,300.25 506.50,311.33 507.67,310.17 509.77,314.83 510.35,291.50 512.33,295.00 513.73,293.25 522.83,304.92 523.42,288.00 532.75,300.83 533.33,290.33 539.17,300.83 545.58,313.67 546.17,283.92 552.00,291.50 552.58,282.75 561.33,292.67 562.27,272.83 564.25,275.17 565.07,265.83 571.67,278.67 579.83,291.50 589.17,300.83 597.33,311.33 598.27,307.83 603.40,319.50 604.10,306.67 606.43,310.17 607.60,304.33 616.58,316.58 617.17,285.08 626.50,293.25 632.57,302.00 633.50,291.50 645.75,307.83 646.33,302.00 652.75,306.67 653.33,298.27 654.27,304.33 660.33,309.58 668.50,321.25 669.20,269.92 675.50,277.50 682.50,282.75 686.00,284.50 688.92,283.92 690.00,285.00 694.67,290.83 699.57,298.07 699.92,280.22 700.27,298.07 703.77,302.50 704.93,287.92 706.33,293.17 710.42,297.83 711.00,283.25 718.00,287.33 724.42,292.00 729.67,299.00 736.43,307.75 737.02,298.42 739.58,303.08 743.08,305.42 743.67,297.25 750.67,300.75 756.50,305.42 759.42,309.50 759.77,270.42 765.83,279.17 767.23,280.92 767.58,263.88 767.93,281.73 771.67,286.17 775.75,289.08 776.10,283.83 782.17,286.75 786.83,289.08 791.50,294.92 798.50,303.67 799.67,301.92 804.57,311.25 805.03,272.75 807.83,276.25 812.50,279.75 817.75,283.48 818.92,283.13 823.00,287.57 825.33,287.33 830.50,296.42 833.42,302.83 834.58,268.88 835.75,276.58 838.67,278.33 840.42,281.25 849.17,293.50 850.10,277.17 852.67,279.50 859.67,284.75 862.93,290.58 863.75,283.00 869.00,292.33 877.00,305.00 895.08,326.58 895.67,325.77 896.25,327.98 902.40,339.77 902.70,249.70 903.00,340.35 912.00,351.67 924.25,367.42 925.00,301.08 930.67,308.50 935.33,314.92 944.67,329.50 954.00,341.17 959.83,350.50 962.17,351.08 966.83,357.50 969.17,362.17 970.10,357.52 973.25,368.25 975.58,369.42 978.50,374.08 979.90,368.83 986.08,379.92 986.67,304.20 987.25,380.73 988.77,382.83 989.58,367.08 1001.25,384.00 1002.42,353.67 1010.00,364.75 1021.67,386.92 1022.02,339.67 1026.92,347.25 1028.90,346.67 1036.83,363.58 1037.77,352.50" fill="none" stroke="#f00" stroke-opacity="0.6" stroke-width="2.083" stroke-linejoin="round" stroke-linecap="square"/>
</g>
<path d="M192.5 534.5v5 M361.5 534.5v5 M531.5 534.5v5 M700.5 534.5v5 M869.5 534.5v5 M1038.5 534.5v5 M150.5 488.5h-5 M150.5 395.5h-5 M150.5 303.5h-5 M150.5 211.5h-5 M150.5 118.5h-5" stroke="#000" stroke-width="1.11" fill="none"/>
<rect x="150.5" y="72.5" width="930" height="462" fill="none" stroke="#000" stroke-width="1.11" stroke-linejoin="miter"/>
<g font-family="'DejaVu Sans', 'Liberation Sans', sans-serif" font-size="13.889" fill="#000">
<text x="191.3" y="555.28" text-anchor="middle">30</text>
<text x="361.2" y="555.28" text-anchor="middle">40</text>
<text x="530.3" y="555.28" text-anchor="middle">50</text>
<text x="699.8" y="555.28" text-anchor="middle">60</text>
<text x="868.3" y="555.28" text-anchor="middle">70</text>
<text x="1037.8" y="555.28" text-anchor="middle">80</text>
<text x="139.8" y="493.0" text-anchor="end" textLength="21.0" lengthAdjust="spacing">0.6</text>
<text x="139.8" y="400.9" text-anchor="end" textLength="21.0" lengthAdjust="spacing">0.8</text>
<text x="139.8" y="308.0" text-anchor="end" textLength="21.0" lengthAdjust="spacing">1.0</text>
<text x="139.8" y="216.0" text-anchor="end" textLength="21.0" lengthAdjust="spacing">1.2</text>
<text x="139.8" y="123.9" text-anchor="end" textLength="21.0" lengthAdjust="spacing">1.4</text>
<text x="615.5" y="574.27" text-anchor="middle" textLength="117.2" lengthAdjust="spacing">Frequency (MHz)</text>
<text transform="translate(108.95 304.30) rotate(-90)" text-anchor="middle" textLength="125.85" lengthAdjust="spacing">Normalized Power</text>
<text x="615.2" y="63.67" text-anchor="middle" font-size="16.667" textLength="752.7" lengthAdjust="spacing">2025-02-17 - Cor 246 - LWA191 - Pol YY - Normalized Spectrum (Median power=14.0 CPU)</text>
</g>
<rect x="901.5" y="79.5" width="172" height="67" rx="2.78" ry="2.78" fill="#fff" fill-opacity="0.8" stroke="#ccc" stroke-opacity="0.8" stroke-width="1.389"/>
<path d="M906 91H934" stroke="#000" stroke-width="2.083" stroke-linecap="square"/>
<path d="M906 112H934" stroke="#f00" stroke-opacity="0.6" stroke-width="2.083" stroke-linecap="square"/>
<rect x="906.5" y="128.5" width="28" height="9" fill="#000" fill-opacity="0.2" stroke="#000" stroke-opacity="0.2" stroke-width="1.389"/>
<g font-family="'DejaVu Sans', 'Liberation Sans', sans-serif" font-size="13.889" fill="#000">
<text x="944.9" y="94.9">Median Spectrum</text>
<text x="944.9" y="116.44">Reference spec</text>
<text x="944.9" y="137.39">Median Abs. Dev.</text>
</g>
</svg>
</body></html>
